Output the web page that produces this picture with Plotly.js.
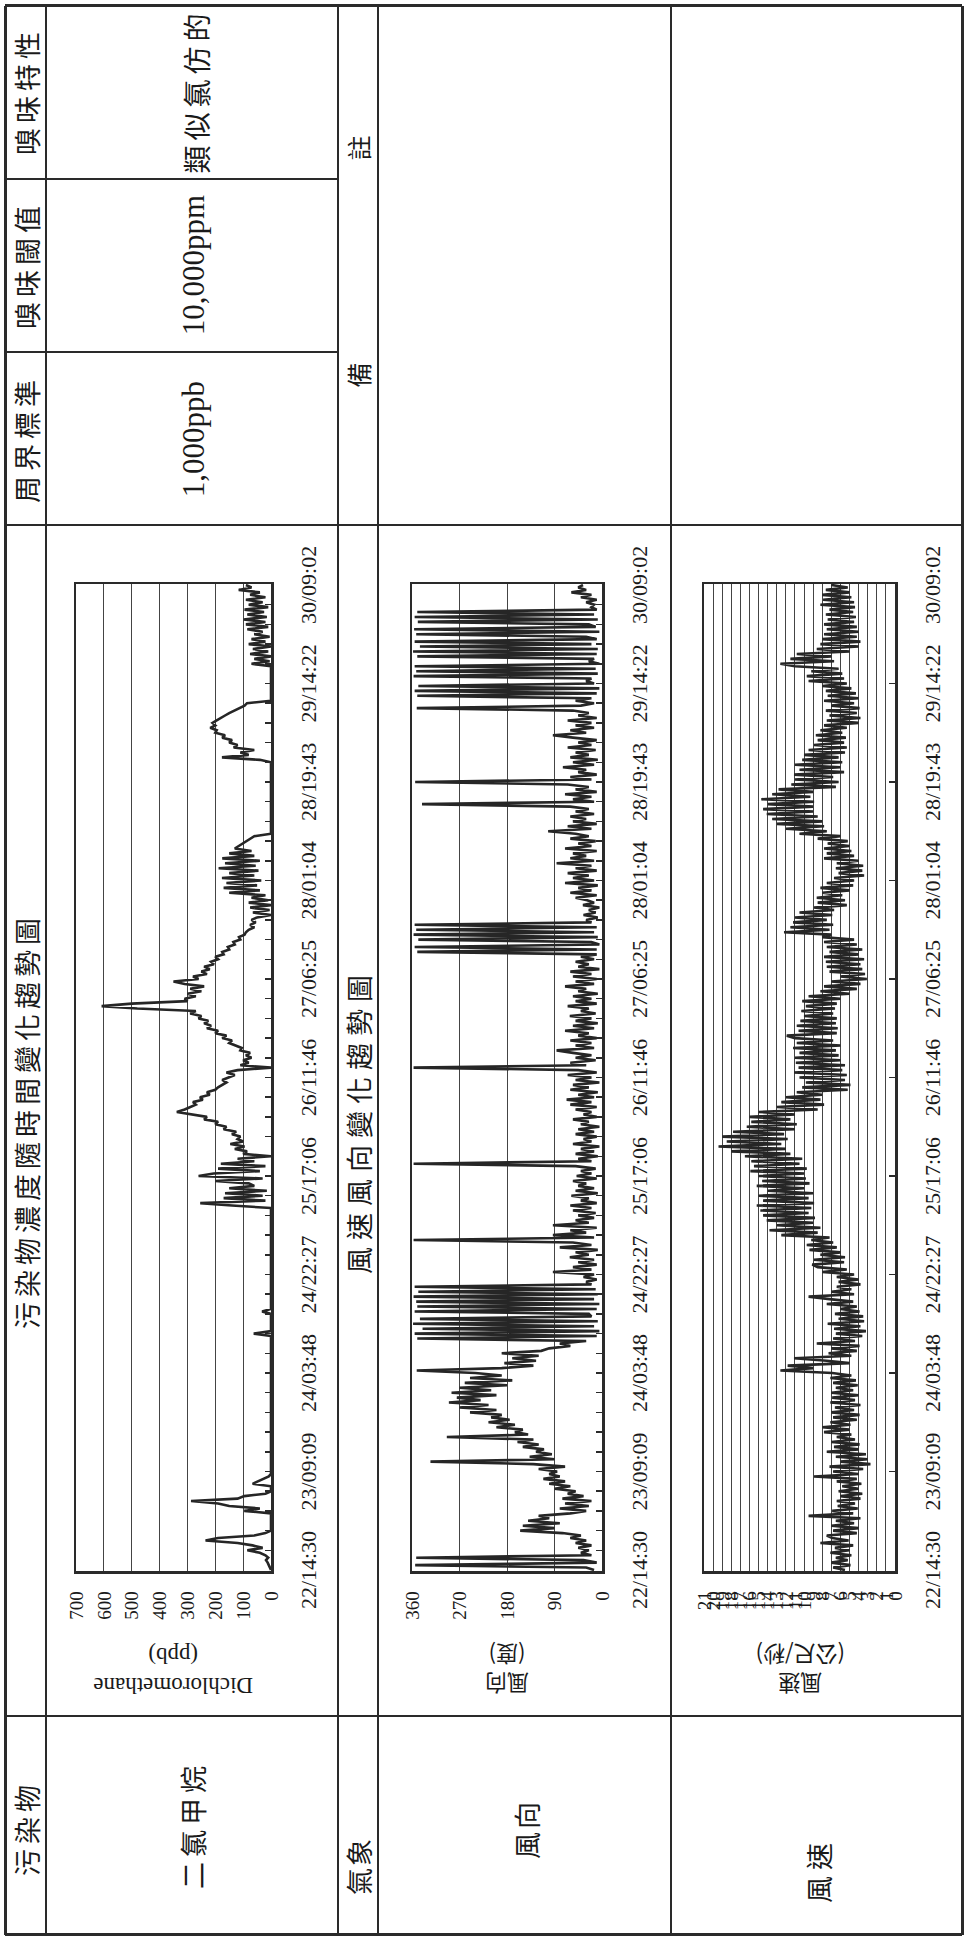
<!DOCTYPE html>
<html><head><meta charset="utf-8">
<script src="https://cdn.plot.ly/plotly-3.0.1.min.js"></script>
<style>
html,body{margin:0;padding:0;background:#fff;width:967px;height:1936px;overflow:hidden;}
#page{position:absolute;left:0;top:0;width:1936px;height:967px;transform-origin:0 0;transform:translate(0px,1936px) rotate(-90deg);background:#fff;}
#plot{position:absolute;left:0;top:0;width:1936px;height:967px;}
.ln{position:absolute;background:#2a2a2a;}
.t{position:absolute;transform:translate(-50%,-50%);white-space:nowrap;color:#1a1a1a;line-height:1;}
.cjk{font-family:"Noto Sans CJK TC","Noto Sans CJK SC",sans-serif;font-size:27px;letter-spacing:5px;}
.lat{font-family:"Liberation Serif","Times New Roman",serif;font-size:31px;}
</style></head><body>
<div id="page"><div id="plot"></div><div id="table"></div></div>
<script>
// ---- data ----
const timeLabels = ['22/14:30','23/09:09','24/03:48','24/22:27','25/17:06','26/11:46','27/06:25','28/01:04','28/19:43','29/14:22','30/09:02'];
const samplesPerLabel = 40;

const dichloromethane = [
0,3,8,12,18,10,20,40,85,30,
66,120,235,190,60,20,0,0,0,0,
0,0,0,0,96,40,150,190,287,120,
96,20,0,0,0,66,45,25,8,0,
0,0,0,0,0,0,0,0,0,0,
0,0,0,0,0,0,0,0,0,0,
0,0,0,0,0,0,0,0,0,0,
0,0,0,0,0,0,0,0,0,0,
0,0,0,0,0,0,0,0,0,0,
0,0,0,0,0,0,62,0,0,0,
0,0,0,0,0,32,0,0,0,0,
0,0,0,0,0,0,0,0,0,0,
0,0,0,0,0,0,0,0,0,0,
0,0,0,0,0,0,0,0,0,0,
0,0,0,0,0,0,0,0,140,254,
20,170,30,165,15,150,60,80,200,30,
260,206,40,190,20,180,60,120,0,100,
86,130,95,146,100,120,110,140,125,170,
160,200,190,240,230,280,338,310,290,270,
280,245,255,220,230,200,190,175,160,175,
150,130,160,120,0,110,80,100,70,90,
75,110,105,130,150,140,175,160,200,190,
230,215,240,225,260,250,290,270,480,608,
500,300,310,270,300,250,290,240,310,350,
260,280,230,250,220,240,205,215,190,200,
170,175,150,155,130,135,110,115,95,90,
80,60,75,55,70,50,0,65,5,75,
0,80,10,70,20,150,40,170,50,160,
35,176,60,150,45,188,55,165,40,175,
60,150,70,130,115,100,85,70,60,0,
0,0,0,0,0,0,0,0,0,0,
0,0,0,0,0,0,0,0,0,0,
0,0,0,0,0,0,0,0,0,40,
176,80,110,60,134,120,150,140,175,165,
200,195,218,200,210,195,182,165,150,130,
110,95,86,0,0,0,0,0,0,0,
0,0,0,0,0,0,0,0,70,5,
60,0,75,10,65,0,80,20,70,5,
60,30,85,10,90,20,98,15,85,25,
95,10,80,30,90,20,75,40,116,70,
90];

const windDirection = [
15,30,354,10,35,352,20,40,25,45,
20,50,30,60,40,75,155,90,150,80,
140,100,120,60,30,80,25,70,20,75,
35,65,50,90,60,100,70,111,80,100,
85,120,70,130,325,90,137,95,125,110,
150,120,160,130,294,140,165,150,200,165,
215,175,210,190,250,200,270,215,290,230,
275,200,285,210,270,180,260,170,250,190,
240,351,190,130,185,125,170,120,190,115,
100,60,80,30,350,10,355,5,340,15,
358,8,345,20,25,355,10,350,5,352,
15,357,8,348,12,355,20,30,10,35,
15,93,20,55,10,45,15,61,25,50,
8,80,20,55,357,15,93,30,60,10,
93,25,50,15,45,12,55,20,60,10,
40,25,58,8,50,15,45,30,55,10,
48,20,40,12,50,357,20,45,8,50,
15,40,5,55,20,35,10,50,15,45,
5,40,25,55,10,35,20,50,10,60,
20,67,15,45,8,60,25,55,5,50,
20,65,10,45,357,30,60,12,50,20,
55,86,15,50,20,60,10,45,25,70,
15,55,8,50,20,61,12,40,25,65,
10,50,20,55,8,45,30,70,15,50,
10,55,20,60,5,45,25,50,15,40,
10,350,10,355,5,20,348,8,357,15,
352,10,355,20,30,8,35,12,25,5,
36,15,28,50,10,60,20,45,8,70,
15,55,25,65,10,50,20,86,15,60,
30,55,10,70,20,45,12,60,25,50,
102,20,65,10,55,30,60,15,50,25,
60,341,15,55,20,70,10,50,25,65,
354,20,60,10,45,30,74,15,55,8,
60,25,50,12,65,20,45,10,55,93,
30,60,15,50,20,65,10,45,25,55,
351,40,15,50,20,350,10,355,5,348,
15,30,20,357,8,352,12,355,5,25,
15,350,10,358,8,345,20,355,10,30,
352,5,356,12,25,349,8,355,15,350,
10,20,15,30,10,40,20,58,30,45,
36];

const windSpeed = [
5.5,6.8,4.9,7.0,5.2,6.5,4.8,7.1,5.0,6.6,
4.6,8.2,5.1,6.9,7.5,4.2,6.8,4.0,7.0,4.5,
6.5,3.8,9.5,4.6,6.9,4.1,6.3,4.4,6.4,3.8,
6.0,3.6,6.2,4.0,5.8,3.7,6.4,4.2,8.9,4.0,
6.8,3.5,7.2,2.7,6.0,3.0,6.5,3.2,7.5,4.0,
6.7,3.9,7.0,4.4,6.4,4.8,7.8,5.0,8.0,4.9,
7.1,4.2,6.8,3.9,7.0,4.5,6.6,3.8,7.1,4.4,
6.9,4.0,7.0,4.6,6.5,4.1,6.8,4.3,7.1,4.8,
6.9,12.6,9.0,11.8,5.0,7.5,11.1,4.8,7.3,4.2,
7.0,3.9,8.6,4.4,6.8,3.6,6.5,3.2,6.7,3.8,
7.4,3.4,6.2,3.5,6.6,3.9,6.0,4.2,7.5,4.6,
7.2,9.5,4.5,7.0,4.8,6.4,3.8,6.2,4.0,6.4,
4.5,8.0,5.3,8.5,9.1,5.6,8.9,5.5,8.2,6.0,
9.4,6.4,9.7,6.8,9.2,7.2,12.5,8.5,13.8,8.2,
13.0,9.0,14.1,8.8,14.5,9.5,14.8,9.2,15.2,8.9,
14.5,9.5,15.0,9.0,14.0,10.0,15.2,9.4,14.6,9.8,
15.0,10.0,15.9,9.7,15.5,10.5,15.8,10.2,16.5,11.5,
18.0,12.0,19.4,12.5,18.5,11.8,19.0,12.2,17.8,11.0,
16.3,10.8,15.8,11.5,16.0,11.0,15.0,8.5,13.0,7.8,
12.5,8.2,12.0,8.0,10.8,5.2,10.2,4.9,9.8,5.5,
10.5,5.3,11.1,5.8,10.6,5.5,10.9,6.0,11.0,6.2,
10.5,6.5,11.2,6.0,10.8,6.8,11.0,11.9,6.4,10.6,
6.3,10.8,6.5,10.4,6.4,10.0,6.8,10.3,6.6,9.8,
6.4,10.2,6.0,9.5,5.0,8.2,4.2,7.8,3.8,7.0,
3.1,6.0,3.3,7.2,3.6,7.5,3.8,7.6,3.4,7.8,
4.0,7.2,3.6,7.5,4.2,7.8,4.5,8.0,7.0,12.2,
7.2,11.5,6.8,11.2,7.5,11.0,6.9,10.5,6.7,8.9,
5.3,8.5,5.5,8.6,5.8,8.0,5.0,8.2,4.6,7.5,
4.5,6.7,3.4,6.2,3.6,6.5,3.5,6.4,4.0,7.8,
4.5,7.5,4.8,7.8,5.0,7.4,5.2,8.5,6.0,10.5,
7.5,12.0,7.8,13.0,8.0,13.5,8.5,14.1,9.0,14.5,
9.0,14.0,8.9,14.7,9.3,13.5,9.0,12.8,6.5,11.4,
6.2,11.0,6.8,11.1,5.6,10.5,6.0,11.0,5.8,10.2,
6.2,10.0,5.5,9.5,5.3,8.9,5.6,8.5,5.4,8.7,
5.8,8.2,5.3,7.8,4.0,7.5,3.8,7.2,4.2,7.6,
3.9,7.0,4.5,7.8,4.0,7.4,4.3,7.6,4.8,8.0,
5.3,9.5,5.6,9.7,5.8,9.2,6.2,11.0,12.6,6.7,
11.5,7.0,10.8,5.0,8.6,4.0,8.2,3.8,8.0,4.2,
7.8,4.0,7.5,4.2,7.8,4.5,7.4,4.3,7.6,4.6,
7.2,4.4,8.2,4.5,7.9,4.8,8.0,5.0,7.6,5.2,
7.0];

// ---- page table (unrotated page coordinates, px) ----
const W = 1936, H = 967;
const table = document.getElementById('table');
function hLine(y, x0, x1, t){ const d=document.createElement('div'); d.className='ln'; t=t||2;
  d.style.cssText += `left:${x0}px;top:${y - t/2}px;width:${x1-x0}px;height:${t}px;`; table.appendChild(d); }
function vLine(x, y0, y1, t){ const d=document.createElement('div'); d.className='ln'; t=t||2;
  d.style.cssText += `left:${x - t/2}px;top:${y0}px;width:${t}px;height:${y1-y0}px;`; table.appendChild(d); }
function txt(s, cx, cy, cls, extra){ const d=document.createElement('div'); d.className='t '+cls;
  d.textContent = s; d.style.left = cx+'px'; d.style.top = cy+'px'; if(extra) d.style.cssText += extra; table.appendChild(d); }

const L = 1, R = 1930, T = 5, B = 962;
[T, 46, 338, 378, 671, B].forEach(y => hLine(y, L, R, (y===T||y===B)?3:2));
[L, 220, 1411, R].forEach(x => vLine(x, T, B, (x===L||x===R)?3:2));
[1584, 1757].forEach(x => vLine(x, T, 338, 2));

txt('污染物', 108, 26, 'cjk');
txt('污染物濃度隨時間變化趨勢圖', 815, 26, 'cjk');
txt('周界標準', 1497, 26, 'cjk');
txt('嗅味閾值', 1671, 26, 'cjk');
txt('嗅味特性', 1845, 26, 'cjk');
txt('二氯甲烷', 111, 192, 'cjk');
txt('1,000ppb', 1497, 193, 'lat');
txt('10,000ppm', 1671, 193, 'lat');
txt('類似氯仿的', 1845, 196, 'cjk', 'font-size:28px;');
txt('氣象', 70, 358, 'cjk', 'letter-spacing:2px;');
txt('風速風向變化趨勢圖', 815, 358, 'cjk', 'letter-spacing:7px;');
txt('備', 1561, 358, 'cjk', 'font-size:25px;letter-spacing:0;');
txt('註', 1788, 358, 'cjk', 'font-size:25px;letter-spacing:0;');
txt('風向', 107, 526, 'cjk', 'letter-spacing:3px;');
txt('風速', 66, 818, 'cjk', 'letter-spacing:6px;');

// ---- charts ----
const xIdx = dichloromethane.map((_, i) => i);
const tickvals = timeLabels.map((_, k) => k * samplesPerLabel);
const plotX0 = 365, plotX1 = 1352;
const ink = '#2a2a2a';
const serif = 'Liberation Serif, Times New Roman, serif';
const cjkFont = 'Noto Sans CJK TC, Noto Sans CJK SC, sans-serif';

function xAxis(anchor, minor){
  const a = {domain:[plotX0/W, plotX1/W], anchor, range:[-0.4, 400.4], tickmode:'array', tickvals, ticktext: timeLabels,
    ticks:'inside', ticklen:6, tickwidth:1.5, tickcolor:ink, showline:true, linecolor:ink, linewidth:2.5, mirror:true,
    showgrid:false, zeroline:false, tickfont:{family:serif, size:22, color:'#1a1a1a'}, ticklabelstandoff:16, fixedrange:true};
  if (minor) a.minor = {tickmode:'linear', tick0:0, dtick:samplesPerLabel/5, ticks:'inside', ticklen:6, tickwidth:1.5, tickcolor:ink, showgrid:false};
  return a;
}
function yAxis(top, bot, range, dtick, anchor){
  return {domain:[1 - bot/H, 1 - top/H], anchor, range, tickmode:'linear', tick0:0, dtick, ticks:'',
    showgrid:true, gridcolor:'#444', gridwidth:1, showline:true, linecolor:ink, linewidth:2.5, mirror:true,
    zeroline:false, tickfont:{family:serif, size:19, color:'#1a1a1a'}, ticklabelstandoff:14, fixedrange:true};
}
const lineStyle = {color:'#262626', width:2.6};
const traces = [
  {x:xIdx, y:dichloromethane, xaxis:'x', yaxis:'y', type:'scatter', mode:'lines', line:lineStyle, hoverinfo:'skip'},
  {x:xIdx, y:windDirection, xaxis:'x2', yaxis:'y2', type:'scatter', mode:'lines', line:lineStyle, hoverinfo:'skip'},
  {x:xIdx, y:windSpeed, xaxis:'x3', yaxis:'y3', type:'scatter', mode:'lines', line:lineStyle, hoverinfo:'skip'}
];
const layout = {
  width:W, height:H, margin:{l:0, r:0, t:0, b:0}, showlegend:false,
  paper_bgcolor:'rgba(0,0,0,0)', plot_bgcolor:'#fff',
  xaxis: xAxis('y', true), yaxis: yAxis(76, 271, [0, 700], 100, 'x'),
  xaxis2: xAxis('y2', true), yaxis2: yAxis(412, 602, [0, 360], 90, 'x2'),
  xaxis3: xAxis('y3', false), yaxis3: yAxis(704, 895, [0, 21], 1, 'x3'),
  annotations: [
    {text:'Dichloromethane<br>(ppb)', xref:'paper', yref:'paper', x:265/W, y:1-173/H, xanchor:'center', yanchor:'middle', textangle:-90, showarrow:false, font:{family:serif, size:23, color:'#1a1a1a'}},
    {text:'風向<br>(度)', xref:'paper', yref:'paper', x:265/W, y:1-507/H, xanchor:'center', yanchor:'middle', textangle:-90, showarrow:false, font:{family:cjkFont, size:22, color:'#1a1a1a'}},
    {text:'風速<br>(公尺/秒)', xref:'paper', yref:'paper', x:265/W, y:1-800/H, xanchor:'center', yanchor:'middle', textangle:-90, showarrow:false, font:{family:cjkFont, size:22, color:'#1a1a1a'}}
  ]
};
Plotly.newPlot('plot', traces, layout, {staticPlot:true, displayModeBar:false});
</script>
</body></html>
